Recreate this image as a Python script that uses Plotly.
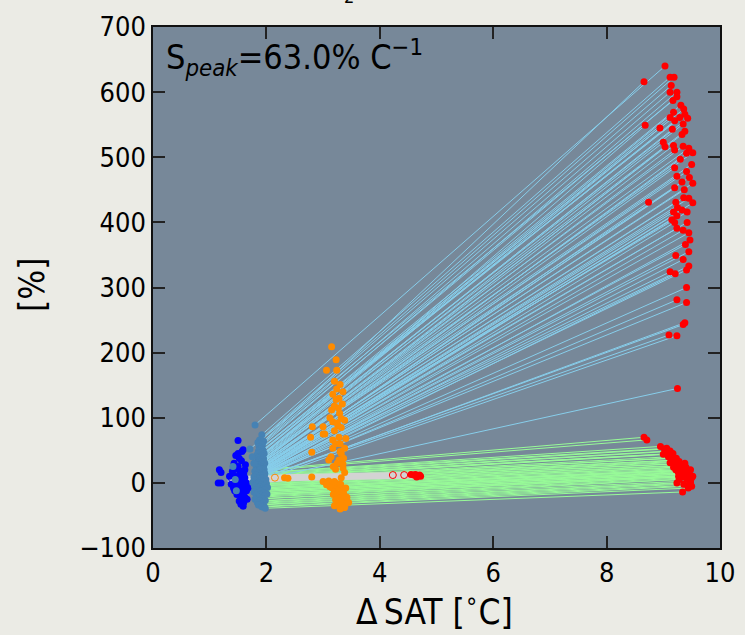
import plotly.graph_objects as go

# ---------------- data ----------------
# red (late) points connected by light-blue lines (high response)
red_up_x = [9.03, 9.12, 9.19, 8.66, 9.14, 9.12, 9.24, 9.24, 9.17, 9.31,
            9.36, 9.18, 9.38, 9.12, 9.29, 9.43, 9.2, 9.35, 8.68, 8.94,
            9.16, 9.38, 9.33, 9.0, 9.18, 9.35, 9.03, 9.45, 9.2, 9.52,
            9.41, 9.3, 9.5, 9.2, 9.41, 9.24, 9.46, 9.33, 9.52, 9.2,
            9.37, 9.45, 9.36, 8.74, 9.22, 9.52, 9.25, 9.33, 9.18, 9.42,
            9.24, 9.15, 9.2, 9.42, 9.24, 9.35, 9.45, 9.47, 9.39, 9.45,
            9.22, 9.35, 9.45, 9.41, 9.12, 9.21, 9.41, 9.24, 9.41, 9.38,
            9.35, 9.1, 9.24, 9.25]
red_up_y = [640, 623, 623, 616, 610, 600, 600, 593, 587, 580,
            574, 569, 566, 561, 561, 560, 556, 551, 549, 545,
            543, 540, 535, 523, 518, 517, 516, 514, 511, 507,
            506, 497, 489, 484, 478, 471, 469, 462, 460, 453,
            450, 437, 438, 431, 431, 430, 423, 419, 416, 416,
            410, 404, 400, 400, 391, 388, 384, 373, 366, 355,
            349, 343, 333, 327, 324, 321, 300, 281, 277, 246,
            243, 227, 226, 145]

# red (late) points connected by green lines (low response)
red_lo_x = [8.66, 8.71, 8.95, 9.06, 9.02, 9.12, 9.04, 9.17, 9.0, 9.1,
            9.09, 9.23, 9.14, 9.2, 9.15, 9.28, 9.12, 9.38, 9.2, 9.3,
            9.25, 9.18, 9.4, 9.33, 9.48, 9.22, 9.34, 9.43, 9.26, 9.32,
            9.45, 9.38, 9.44, 9.3, 9.46, 9.4, 9.27, 9.52, 9.35, 9.5,
            9.42, 9.28, 9.48, 9.24, 9.48, 9.36, 9.43, 9.5, 9.44, 9.34]
red_lo_y = [70, 66, 56, 53, 52, 49, 48, 45, 44, 44,
            40, 38, 38, 35, 34, 33, 31, 30, 29, 27,
            26, 24, 24, 22, 20, 20, 19, 19, 17, 16,
            16, 15, 14, 13, 12, 11, 10, 10, 9, 8,
            6, 5, 3, 0, 0, -2, -4, -5, -8, -14]

# steelblue points (start of the lines), same order as red_up / red_lo
sb_up_x = [1.80, 1.92, 1.88, 1.95, 1.85, 1.90, 1.93, 1.87, 1.71, 1.91,
           1.89, 1.94, 1.86, 1.92, 1.88, 1.96, 1.84, 1.90, 1.93, 1.87,
           1.91, 1.85, 1.95, 1.89, 1.92, 1.86, 1.94, 1.88, 1.90, 1.83,
           1.97, 1.91, 1.87, 1.93, 1.85, 1.89, 1.95, 1.82, 1.90, 1.92,
           1.86, 1.94, 1.88, 1.91, 1.84, 1.96, 1.89, 1.93, 1.87, 1.80,
           1.92, 1.86, 1.95, 1.90, 1.83, 1.93, 1.88, 1.97, 1.85, 1.91,
           1.89, 1.94, 1.86, 1.92, 1.80, 1.96, 1.88, 1.91, 1.84, 1.95,
           1.90, 1.87, 1.93, 1.86]
sb_up_y = [89, 74, 66, 64, 62, 60, 58, 56, 52, 53,
           52, 50, 49, 47, 46, 45, 44, 42, 41, 40,
           39, 38, 37, 36, 35, 34, 33, 32, 31, 30,
           30, 29, 28, 27, 27, 26, 25, 25, 24, 23,
           23, 22, 22, 21, 20, 20, 19, 19, 18, 18,
           17, 17, 16, 16, 15, 15, 14, 14, 13, 13,
           12, 12, 11, 11, 10, 10, 9, 9, 8, 8,
           7, 6, 5, 4]
sb_lo_x = [1.88, 1.80, 1.93, 1.85, 1.97, 1.82, 1.90, 1.95, 1.78, 1.87,
           1.92, 1.84, 1.99, 1.80, 1.89, 1.94, 1.76, 1.86, 2.00, 1.83,
           1.91, 1.96, 1.79, 1.88, 2.02, 1.85, 1.93, 1.81, 1.97, 1.87,
           1.90, 1.78, 1.95, 1.84, 2.01, 1.89, 1.82, 1.96, 1.86, 1.92,
           1.80, 1.98, 1.88, 1.84, 1.94, 1.90, 1.86, 1.96, 1.92, 1.98]
sb_lo_y = [20, 18, 16, 15, 14, 12, 11, 10, 9, 8,
           7, 6, 5, 4, 3, 2, 1, 0, -1, -2,
           -3, -4, -5, -6, -7, -8, -9, -10, -11, -12,
           -13, -14, -15, -16, -17, -18, -19, -20, -22, -24,
           -25, -27, -28, -30, -31, -33, -34, -36, -37, -39]
sb_extra_x = [1.41, 1.45, 1.47, 1.75, 1.78]
sb_extra_y = [25, 5, -12, 40, 30]

# blue (early) points
blue_x = [1.50, 1.59, 1.57, 1.46, 1.52, 1.43, 1.50, 1.17, 1.20, 1.47,
          1.55, 1.60, 1.42, 1.52, 1.62, 1.48, 1.58, 1.15, 1.20, 1.45,
          1.55, 1.62, 1.50, 1.42, 1.58, 1.65, 1.52, 1.60, 1.48, 1.55,
          1.62, 1.58, 1.52, 1.60, 1.59, 1.55, 1.45, 1.35, 1.38, 1.63,
          1.56, 1.50, 1.62, 1.65, 1.40, 1.68, 1.66, 1.44, 1.53, 1.57]
blue_y = [65, 51, 48, 42, 38, 30, 25, 20, 16, 22,
          18, 14, 12, 10, 8, 5, 3, 0, 0, 0,
          -2, -4, -6, -8, -10, -12, -14, -16, -18, -20,
          -22, -25, -28, -30, -36, -33, -3, 10, -2, 28,
          34, 45, 20, 0, 18, -8, -25, -12, 15, -5]

# orange (mid) points
orange_x = [3.15, 3.23, 3.06, 3.24, 3.20, 3.30, 3.24, 3.17, 3.23, 3.34,
            3.15, 3.29, 3.32, 3.38, 3.17, 3.26, 3.32, 2.81, 3.00, 2.78,
            3.00, 3.03, 3.17, 3.28, 3.40, 3.17, 3.38, 3.32, 2.80, 3.14,
            3.28, 3.35, 3.35, 3.22, 3.38, 3.32, 3.22, 3.30, 3.12, 3.27,
            3.35, 3.20, 3.25, 3.18, 3.30, 3.36, 3.10, 3.25, 3.28, 3.20,
            3.00, 3.05, 3.10, 3.15, 3.20, 3.08, 3.13, 3.18, 3.24, 3.28,
            3.16, 3.22, 3.30, 3.35, 3.20, 3.26, 3.33, 3.38, 3.24, 3.30,
            3.36, 3.41, 3.28, 3.34, 3.40, 3.25, 3.33, 3.38, 3.30, 3.20,
            3.12, 3.27, 3.36, 3.42, 3.06, 3.18, 3.31, 3.40, 3.45, 3.22]
orange_y = [209, 189, 173, 173, 156, 151, 144, 136, 128, 121,
            112, 107, 99, 96, 94, 88, 85, 86, 86, 70,
            75, 75, 66, 70, 68, 53, 53, 45, 47, 40,
            35, 29, 23, 21, 16, 8, 60, 60, 100, 115,
            140, 80, 30, 25, 48, 38, 35, 92, 130, 118,
            2, 1, 3, 0, 2, -2, -4, -3, -1, -5,
            -8, -10, -9, -12, -14, -16, -18, -20, -20, -23,
            -25, -27, -28, -30, -32, -33, -35, -38, -40, -35,
            -6, -12, -15, -22, -3, -18, -2, -8, -30, -26]

# ensemble-mean trajectory (grey band) and its markers
mean_x = [1.32, 1.50, 1.90, 2.30, 2.80, 3.20, 4.20, 4.72]
mean_y = [7, 6, 5, 8, 9, 10, 12, 12]
mean_open_x = [1.39, 1.56, 2.15, 4.23, 4.43]
mean_open_y = [7, 7, 8, 12, 12]
mean_open_c = ["#0000FF", "#0000FF", "#FF8C00", "#FF0000", "#FF0000"]
mean_fill_x = [2.32, 2.38, 2.80, 4.55, 4.60, 4.63, 4.67, 4.70, 4.72, 4.65]
mean_fill_y = [8, 7, 9, 13, 12, 13, 11, 12, 10, 9]
mean_fill_c = ["#FF8C00", "#FF8C00", "#FF8C00", "#FF0000", "#FF0000",
               "#FF0000", "#FF0000", "#FF0000", "#FF0000", "#FF0000"]

x_ticks = [0, 2, 4, 6, 8, 10]
y_ticks = [-100, 0, 100, 200, 300, 400, 500, 600, 700]


# ---------------- figure ----------------
def segments(x0, y0, x1, y1):
    xs, ys = [], []
    for a, b, c, d in zip(x0, y0, x1, y1):
        xs += [a, c, None]
        ys += [b, d, None]
    return xs, ys


FONT = "DejaVu Sans Condensed, DejaVu Sans, sans-serif"
BG = "#EBEBE5"
fig = go.Figure()

gx, gy = segments(sb_lo_x, sb_lo_y, red_lo_x, red_lo_y)
fig.add_trace(go.Scatter(x=gx, y=gy, mode="lines",
                         line=dict(color="#98FB98", width=1), hoverinfo="skip"))
bx, by = segments(sb_up_x, sb_up_y, red_up_x, red_up_y)
fig.add_trace(go.Scatter(x=bx, y=by, mode="lines",
                         line=dict(color="#87CEEB", width=1), hoverinfo="skip"))

fig.add_trace(go.Scatter(x=mean_x, y=mean_y, mode="lines",
                         line=dict(color="#D3D3D3", width=7)))
fig.add_trace(go.Scatter(x=mean_open_x, y=mean_open_y, mode="markers",
                         marker=dict(size=7, color="rgba(0,0,0,0)",
                                     line=dict(color=mean_open_c, width=1))))

mk = dict(size=7, line=dict(width=0))
fig.add_trace(go.Scatter(x=blue_x, y=blue_y, mode="markers",
                         marker=dict(color="#0000FF", **mk)))
fig.add_trace(go.Scatter(x=sb_up_x + sb_lo_x + sb_extra_x,
                         y=sb_up_y + sb_lo_y + sb_extra_y, mode="markers",
                         marker=dict(color="#4682B4", **mk)))
fig.add_trace(go.Scatter(x=orange_x, y=orange_y, mode="markers",
                         marker=dict(color="#FF8C00", **mk)))
fig.add_trace(go.Scatter(x=red_up_x + red_lo_x, y=red_up_y + red_lo_y,
                         mode="markers", marker=dict(color="#FF0000", **mk)))
fig.add_trace(go.Scatter(x=mean_fill_x, y=mean_fill_y, mode="markers",
                         marker=dict(color=mean_fill_c, **mk)))

axis_common = dict(showgrid=False, zeroline=False, showline=True,
                   linecolor="#111111", linewidth=1.5, mirror="ticks",
                   ticks="inside", ticklen=12, tickwidth=1.5,
                   tickcolor="#222222", automargin=False,
                   tickfont=dict(family=FONT, size=27, color="#000000"))

fig.update_layout(
    width=745, height=635,
    margin=dict(l=153, r=25, t=27, b=87),
    paper_bgcolor=BG,
    plot_bgcolor="#778899",
    showlegend=False,
    font=dict(family=FONT, color="#000000"),
    xaxis=dict(range=[0, 10], tickvals=x_ticks, ticktext=[str(v) for v in x_ticks],
               **axis_common),
    yaxis=dict(range=[-100, 700], tickvals=y_ticks,
               ticktext=[("−" + str(-v)) if v < 0 else str(v) for v in y_ticks],
               **axis_common),
)

# axis titles (placed as annotations so they never change the margins)
fig.add_annotation(xref="paper", yref="paper", x=(434 - 153) / 567,
                   y=(548 - 609) / 521, xanchor="center", yanchor="middle",
                   showarrow=False, text="Δ\u2009SAT [<sup>∘</sup>C]",
                   font=dict(family=FONT, size=35, color="#000000"))
fig.add_annotation(xref="paper", yref="paper", x=(32 - 153) / 567,
                   y=(548 - 285) / 521, xanchor="center", yanchor="middle",
                   textangle=-90, showarrow=False, text="[%]",
                   font=dict(family=FONT, size=35, color="#000000"))

fig.add_annotation(xref="paper", yref="paper", x=0.02, y=0.992,
                   xanchor="left", yanchor="top", showarrow=False,
                   text="S<sub><i>peak</i></sub>=63.0% C<sup>−1</sup>",
                   font=dict(family=FONT, size=34, color="#000000"))
fig.add_annotation(xref="paper", yref="paper", x=(349 - 153) / 567, y=1.035,
                   xanchor="center", yanchor="bottom", showarrow=False,
                   text="2", font=dict(family=FONT, size=18, color="#000000"))

fig.write_html(
    "out.html",
    config={"displayModeBar": False},
    post_script="document.body.style.margin='0px';"
                "document.body.style.background='" + BG + "';",
)
